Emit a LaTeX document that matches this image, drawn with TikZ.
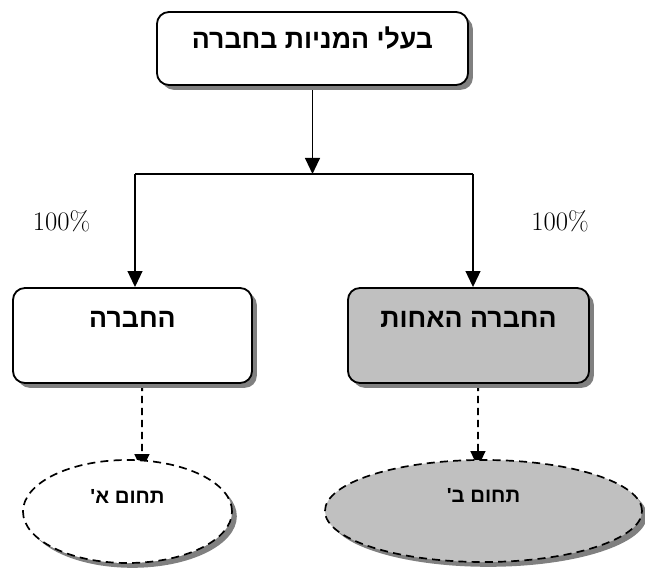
\documentclass[tikz,border=0pt]{standalone}
\usepackage{fontspec}
\newfontfamily\hebfont[Script=Hebrew]{Liberation Sans}
\TeXXeTstate=1
\usetikzlibrary{shapes.geometric, arrows.meta, shadows, backgrounds}
\definecolor{boxgray}{RGB}{192,192,192}
\definecolor{shadowgray}{RGB}{128,128,128}

\begin{document}
\begin{tikzpicture}[x=0.025cm, y=-0.025cm,
  box/.style={draw, line width=1.3pt, rounded corners=0.3cm, fill=white, inner sep=0pt,
    drop shadow={shadow xshift=0.12cm, shadow yshift=-0.12cm, fill=shadowgray, opacity=1},
    font=\hebfont\bfseries\fontsize{19}{23}\selectfont,
    text height=0.1cm, text depth=0.5cm},
  field/.style={draw, ellipse, line width=1.2pt, dash pattern=on 0.2cm off 0.13cm,
    fill=white, inner sep=0pt,
    drop shadow={shadow xshift=0.12cm, shadow yshift=-0.12cm, fill=shadowgray, opacity=1},
    font=\hebfont\bfseries\fontsize{14.5}{18}\selectfont,
    text height=0.1cm, text depth=0.52cm},
  link/.style={line width=1.2pt, -{Triangle[length=0.4cm, width=0.37cm]}},
  pct/.style={font=\fontsize{19}{22}\selectfont}]
  \useasboundingbox (0,0) rectangle (645,570);

  % holders on top, the two companies below
  \node[box, minimum width=7.775cm, minimum height=1.825cm,
    text height=0.3cm, text depth=0.3cm] (owners) at (312.5,48.5)
    {\beginR בעלי המניות בחברה\endR};
  \node[box, minimum width=5.975cm, minimum height=2.375cm] (company) at (132.5,335.5)
    {\beginR החברה\endR};
  \node[box, fill=boxgray, minimum width=6.025cm, minimum height=2.375cm] (sister) at (468.5,335.5)
    {\beginR החברה האחות\endR};

  % fields of activity
  \node[field, minimum width=5.225cm, minimum height=2.575cm] (fieldA) at (127.5,511.5)
    {\beginR תחום א'\endR};
  \node[field, fill=boxgray, minimum width=7.925cm, minimum height=2.55cm] (fieldB) at (483.5,511)
    {\beginR תחום ב'\endR};

  \node[pct] (pctA) at (61.5,221) {100\%};
  \node[pct] (pctB) at (560,221) {100\%};

  \coordinate (hub) at (312.5,174);
  \coordinate (hubA) at (135,174);
  \coordinate (hubB) at (473,174);

  \begin{scope}[on background layer]
    \draw[link] (owners.south) -- (hub);
    \draw[line width=1.2pt] (hubA) -- (hubB);
    \draw[link] (hubA) -- (hubA |- company.north);
    \draw[link] (hubB) -- (hubB |- sister.north);
    \draw[link, line width=1.3pt, dash pattern=on 0.18cm off 0.12cm]
      ([xshift=0.24cm]company.south) -- ([xshift=0.36cm, yshift=-0.275cm]fieldA.north);
    \draw[link, line width=1.3pt, dash pattern=on 0.18cm off 0.12cm]
      ([xshift=0.24cm]sister.south) -- ([xshift=-0.14cm, yshift=-0.2cm]fieldB.north);
  \end{scope}
\end{tikzpicture}
\end{document}
